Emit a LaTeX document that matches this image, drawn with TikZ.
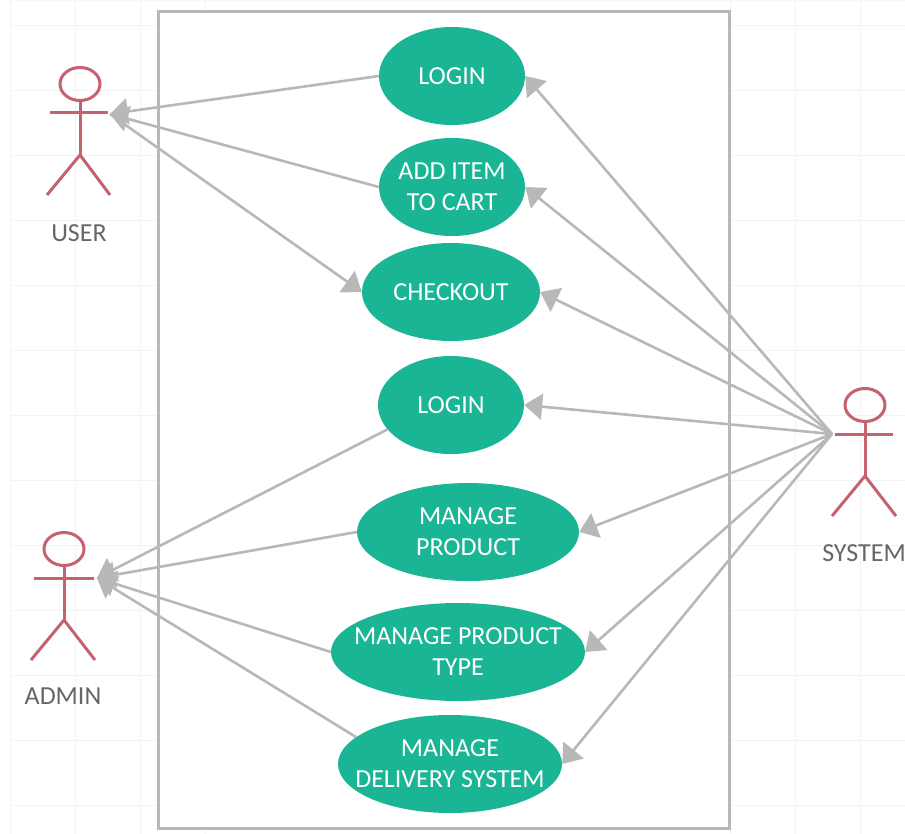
\documentclass[tikz,border=0pt]{standalone}
\usepackage{fontspec}
\setmainfont{Carlito}
\usetikzlibrary{arrows.meta,shapes.geometric}
\definecolor{teal1}{HTML}{1AB594}
\definecolor{linegray}{HTML}{B8B8B8}
\definecolor{actorred}{HTML}{C4626F}
\definecolor{labelgray}{HTML}{666666}
\definecolor{gridminor}{HTML}{F8F8F8}
\definecolor{gridmajor}{HTML}{F3F3F3}
\tikzset{
  usecase/.style={ellipse,fill=teal1,draw=none,minimum height=98pt,inner xsep=-45pt,inner ysep=-15pt,align=center,text=white,font=\fontsize{26}{31}\selectfont},
  actorhead/.style={ellipse,draw=actorred,line width=3pt,minimum width=40pt,minimum height=33pt,inner sep=0pt},
  actorline/.style={draw=actorred,line width=3pt},
  actorlabel/.style={text=labelgray,font=\fontsize{26}{30}\selectfont},
  boundary/.style={draw=linegray,line width=3pt,fill=white},
  assoc/.style={draw=linegray,line width=2.6pt,-{Triangle[length=18pt,width=26pt,fill=linegray]}},
}
\newcommand{\stick}[5]{%
  % name, head x, head y
  \node[actorhead] (#1) at (#2,#3) {};
  \coordinate (#1neck) at (#2,#3+29);
  \coordinate (#1arml) at (#2-30,#3+29);
  \coordinate (#1armr) at (#2+#4,#3+29);
  \coordinate (#1hip) at (#2,#3+71);
  \coordinate (#1legl) at (#2-33,#3+111);
  \coordinate (#1legr) at (#2+#5,#3+111);
  \draw[actorline] (#1.south) -- (#1hip);
  \draw[actorline] (#1arml) -- (#1armr);
  \draw[actorline] (#1legl) -- (#1hip) -- (#1legr);
}
\begin{document}
\begin{tikzpicture}[x=1pt,y=-1pt]
\useasboundingbox (0,0) rectangle (905,834);
\draw[gridminor,line width=0.7pt,step=13pt,shift={(10pt,0pt)}] (0,-820) grid (895,0);
\foreach \x in {10,75,140,205,730,795,860}{\draw[gridmajor,line width=0.7pt] (\x,0) -- (\x,834);}
\foreach \y in {25,90,155,220,285,350,415,480,545,610,675,740,805}{\draw[gridmajor,line width=0.7pt] (10,\y) -- (905,\y);}
\node[boundary,minimum width=571pt,minimum height=816pt,inner sep=0pt] (sysbox) at (443.5,420) {};

\node[usecase,minimum width=146pt] (login1) at (452,76) {LOGIN};
\node[usecase,minimum width=146pt] (addcart) at (452,187) {ADD ITEM\\TO CART};
\node[usecase,minimum width=178pt] (checkout) at (451,292) {CHECKOUT};
\node[usecase,minimum width=146pt] (login2) at (451,405) {LOGIN};
\node[usecase,minimum width=222pt] (product) at (468,532) {MANAGE\\PRODUCT};
\node[usecase,minimum width=254pt] (ptype) at (458,652) {MANAGE PRODUCT\\TYPE};
\node[usecase,minimum width=224pt] (delivery) at (450,764) {MANAGE\\DELIVERY SYSTEM};

\stick{user}{80}{84}{28}{30}
\stick{admin}{64}{549}{30}{31}
\stick{sys}{865}{405}{28}{31}

\node[actorlabel] (userlabel) at (79,233) {USER};
\node[actorlabel] (adminlabel) at (63,696) {ADMIN};
\node[actorlabel] (syslabel) at (864,553) {SYSTEM};

\coordinate (userport) at (110,114);
\coordinate (adminport) at (97,578);
\coordinate (sysport) at (832,434);

\draw[assoc] (login1.west) -- (userport);
\draw[assoc] (addcart.west) -- (userport);
\draw[assoc] (userport) -- (checkout.west);

\draw[assoc] (login2.201) -- (adminport);
\draw[assoc] (product.west) -- (adminport);
\draw[assoc] (ptype.west) -- (adminport);
\draw[assoc] (delivery.164) -- (adminport);

\draw[assoc] (sysport) -- (login1.east);
\draw[assoc] (sysport) -- (addcart.east);
\draw[assoc] (sysport) -- (checkout.east);
\draw[assoc] (sysport) -- (login2.east);
\draw[assoc] (sysport) -- (product.east);
\draw[assoc] (sysport) -- (ptype.east);
\draw[assoc] (sysport) -- (delivery.east);
\end{tikzpicture}
\end{document}
